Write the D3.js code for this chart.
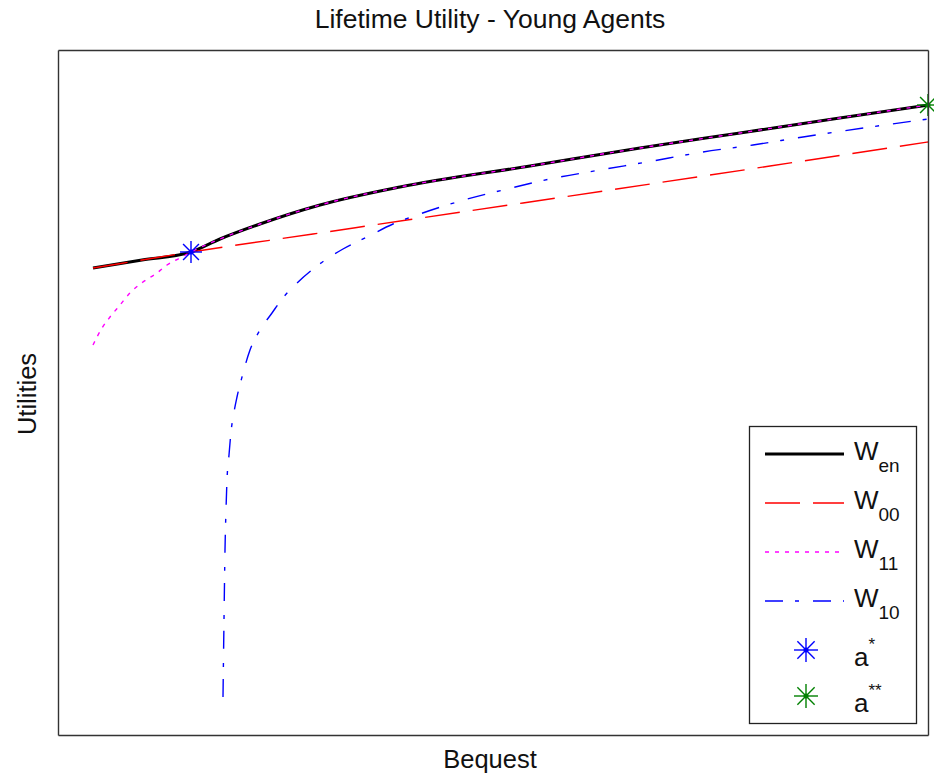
<!DOCTYPE html>
<meta charset="utf-8">
<script src="https://d3js.org/d3.v7.min.js"></script>
<style>
  body { margin: 0; background: #fff; }
  text { font-family: "Liberation Sans", Arial, sans-serif; fill: #111; }
</style>
<div id="chart"></div>
<script>

// Datos (bequest, utilidad)
var wenX  = [0.35, 0.84, 1.33, 1.62, 2.02, 2.62, 3.42, 4.72, 5.82, 6.82, 7.75, 8.70];
var wenY  = [-2.18, -2.10, -2.02, -1.89, -1.74, -1.55, -1.37, -1.16, -0.98, -0.83, -0.69, -0.55];

var w00X  = [0.35, 0.84, 1.33, 2.55, 3.49, 4.65, 5.99, 7.12, 8.70];
var w00Y  = [-2.18, -2.10, -2.02, -1.84, -1.70, -1.53, -1.33, -1.16, -0.92];

var w11X  = [0.35, 0.44, 0.52, 0.62, 0.72, 0.85, 0.99, 1.09, 1.22, 1.33, 1.62, 2.02, 2.62, 3.42, 4.72, 5.82, 6.82, 7.75, 8.70];
var w11Y  = [-2.95, -2.78, -2.67, -2.55, -2.43, -2.32, -2.23, -2.15, -2.08, -2.02, -1.89, -1.74, -1.55, -1.37, -1.16, -0.98, -0.83, -0.69, -0.55];

var w10X  = [1.65, 1.66, 1.67, 1.68, 1.69, 1.71, 1.73, 1.76, 1.79, 1.84, 1.92, 2.02, 2.14, 2.24, 2.39, 2.59, 2.85, 3.09, 3.35, 3.59, 3.99, 4.45, 4.92, 5.42, 5.89, 6.45, 6.95, 7.45, 8.70];
var w10Y  = [-6.47, -5.70, -5.00, -4.60, -4.30, -4.05, -3.82, -3.62, -3.47, -3.27, -3.00, -2.80, -2.63, -2.49, -2.33, -2.16, -1.99, -1.87, -1.74, -1.65, -1.52, -1.40, -1.29, -1.20, -1.12, -1.02, -0.95, -0.87, -0.69];

var aStar  = [1.33, -2.02];
var aStar2 = [8.70, -0.55];

var xDomain = [0, 8.70];
var yDomain = [-6.85, 0];

// Dimensiones
var width = 934, height = 778;
var plot = {left: 58, right: 928, top: 50, bottom: 735};

var svg = d3.select("#chart").append("svg")
    .attr("width", width)
    .attr("height", height);

var x = d3.scaleLinear().domain(xDomain).range([plot.left, plot.right]);
var y = d3.scaleLinear().domain(yDomain).range([plot.bottom, plot.top]);

function zipPts(xs, ys) { return xs.map(function(v, i) { return [v, ys[i]]; }); }

var line = d3.line()
    .x(function(d) { return x(d[0]); })
    .y(function(d) { return y(d[1]); })
    .curve(d3.curveMonotoneX);

var series = [
  {name: "en", pts: zipPts(wenX, wenY), color: "#000000", w: 3,   dash: null},
  {name: "00", pts: zipPts(w00X, w00Y), color: "#ff0000", w: 1.4, dash: "35,13"},
  {name: "11", pts: zipPts(w11X, w11Y), color: "#ff00ff", w: 1.4, dash: "4,6"},
  {name: "10", pts: zipPts(w10X, w10Y), color: "#0000ff", w: 1.4, dash: "18,12,4,14"}
];

// Lineas
series.forEach(function(s) {
  svg.append("path")
    .datum(s.pts)
    .attr("d", line)
    .attr("fill", "none")
    .attr("stroke", s.color)
    .attr("stroke-width", s.w)
    .attr("stroke-dasharray", s.dash);
});

// Marcador asterisco
function star(g, cx, cy, color, r) {
  var a = r * 0.72;
  var segs = [[0, -r, 0, r], [-r, 0, r, 0], [-a, -a, a, a], [-a, a, a, -a]];
  segs.forEach(function(s) {
    g.append("line")
      .attr("x1", cx + s[0]).attr("y1", cy + s[1])
      .attr("x2", cx + s[2]).attr("y2", cy + s[3])
      .attr("stroke", color).attr("stroke-width", 1.4);
  });
  g.append("circle").attr("cx", cx).attr("cy", cy).attr("r", 2.5).attr("fill", color);
}

star(svg, x(aStar[0]), y(aStar[1]), "#0000ff", 11);
star(svg, x(aStar2[0]), y(aStar2[1]), "#008000", 11);

// Caja de ejes, sin marcas
var axisStyle = function(g) {
  g.selectAll(".domain").attr("stroke", "#333").attr("stroke-width", 1.4);
};
svg.append("g").attr("transform", "translate(0," + plot.bottom + ")")
  .call(d3.axisBottom(x).tickValues([]).tickSizeOuter(0)).call(axisStyle);
svg.append("g").attr("transform", "translate(0," + plot.top + ")")
  .call(d3.axisTop(x).tickValues([]).tickSizeOuter(0)).call(axisStyle);
svg.append("g").attr("transform", "translate(" + plot.left + ",0)")
  .call(d3.axisLeft(y).tickValues([]).tickSizeOuter(0)).call(axisStyle);
svg.append("g").attr("transform", "translate(" + plot.right + ",0)")
  .call(d3.axisRight(y).tickValues([]).tickSizeOuter(0)).call(axisStyle);

// Titulo y etiquetas
svg.append("text")
  .attr("x", 490)
  .attr("y", 28)
  .attr("text-anchor", "middle")
  .style("font-size", "26.5px")
  .text("Lifetime Utility - Young Agents");

svg.append("text")
  .attr("x", 490)
  .attr("y", 768)
  .attr("text-anchor", "middle")
  .style("font-size", "25.5px")
  .text("Bequest");

svg.append("text")
  .attr("transform", "translate(36,394) rotate(-90)")
  .attr("text-anchor", "middle")
  .style("font-size", "25.5px")
  .text("Utilities");

// Leyenda
var leg = svg.append("g");
leg.append("rect")
  .attr("x", 749.5).attr("y", 426.5)
  .attr("width", 167).attr("height", 297)
  .attr("fill", "#fff")
  .attr("stroke", "#222").attr("stroke-width", 1.3);

var rowY = [454, 503, 552, 601];
series.forEach(function(s, i) {
  leg.append("line")
    .attr("x1", 765).attr("x2", 844)
    .attr("y1", rowY[i]).attr("y2", rowY[i])
    .attr("stroke", s.color)
    .attr("stroke-width", s.w)
    .attr("stroke-dasharray", s.dash);
  var t = leg.append("text")
    .attr("x", 854).attr("y", rowY[i] + 6)
    .style("font-size", "26px");
  t.append("tspan").text("W");
  t.append("tspan").attr("dy", 12).style("font-size", "19px").text(s.name);
});

var markRows = [
  {y: 650, color: "#0000ff", sup: "*"},
  {y: 696, color: "#008000", sup: "**"}
];
markRows.forEach(function(m) {
  star(leg, 806, m.y, m.color, 12);
  var t = leg.append("text")
    .attr("x", 854).attr("y", m.y + 16)
    .style("font-size", "26px");
  t.append("tspan").text("a");
  t.append("tspan").attr("dy", -16).style("font-size", "17px").text(m.sup);
});

</script>
